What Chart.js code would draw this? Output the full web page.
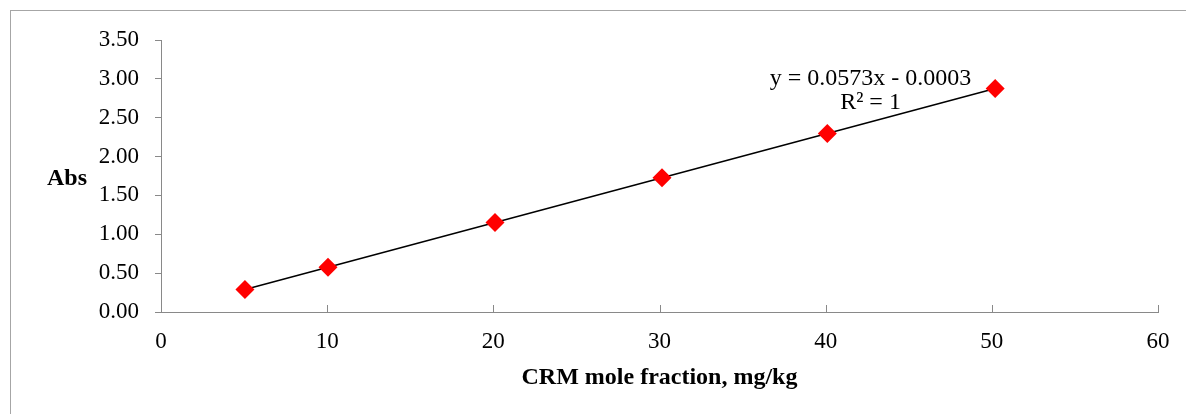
<!DOCTYPE html>
<html lang="en">
  <head>
    <meta charset="utf-8" />
    <title>CRM calibration</title>
    <style>
      * {
        margin: 0;
        padding: 0;
      }
      body {
        background: white;
      }
      .chartBox {
        width: 1186px;
        height: 414px;
      }
    </style>
  </head>
  <body>
    <div class="chartBox">
      <canvas id="myChart"></canvas>
    </div>

    <script src="https://cdn.jsdelivr.net/npm/chart.js@4.4.0/dist/chart.umd.min.js"></script>

    <script>
      // data
      const molFraction = [5.05, 10.05, 20.1, 30.15, 40.1, 50.2];
      const absValues = [0.289, 0.576, 1.152, 1.727, 2.297, 2.876];
      const trendX = [5.05, 50.2];
      const trendY = [0.289, 2.876];
      const xTicks = [0, 10, 20, 30, 40, 50, 60];
      const yTicks = [0, 0.5, 1, 1.5, 2, 2.5, 3, 3.5];
      const eqText = "y = 0.0573x - 0.0003";
      const r2Text = "R\u00b2 = 1";

      const axisColor = "#898989";
      const serif = "'Liberation Serif', 'Times New Roman', serif";

      // frame, inward x ticks, titles and trendline label
      const extras = {
        id: "extras",
        afterDraw(chart) {
          const {
            ctx,
            chartArea: { left, right, top, bottom },
            scales: { x, y },
          } = chart;
          ctx.save();

          // outer frame (only top and left edges fall inside the picture)
          ctx.strokeStyle = "#a6a6a6";
          ctx.lineWidth = 1;
          ctx.strokeRect(10.5, 10.5, 1300, 800);

          // x ticks pointing up into the plot
          ctx.strokeStyle = axisColor;
          ctx.beginPath();
          xTicks.forEach((v) => {
            if (v === 0) return;
            const px = Math.round(x.getPixelForValue(v)) + 0.5;
            ctx.moveTo(px, bottom);
            ctx.lineTo(px, bottom - 7);
          });
          ctx.stroke();

          // axis titles
          ctx.fillStyle = "#000";
          ctx.font = "bold 24px " + serif;
          ctx.textAlign = "left";
          ctx.textBaseline = "middle";
          ctx.fillText("Abs", 47, 179);
          ctx.textAlign = "center";
          ctx.fillText("CRM mole fraction, mg/kg", (left + right) / 2, 378);

          // trendline equation
          ctx.font = "24px " + serif;
          ctx.textAlign = "center";
          const lx = x.getPixelForValue(42.7);
          ctx.fillText(eqText, lx, y.getPixelForValue(3.0));
          ctx.fillText(r2Text, lx, y.getPixelForValue(2.69));

          ctx.restore();
        },
      };

      const data = {
        datasets: [
          {
            type: "line",
            label: "Linear",
            data: trendX.map((v, i) => ({ x: v, y: trendY[i] })),
            borderColor: "#000",
            borderWidth: 1.5,
            pointRadius: 0,
            fill: false,
            order: 2,
          },
          {
            type: "scatter",
            label: "Abs",
            data: molFraction.map((v, i) => ({ x: v, y: absValues[i] })),
            pointStyle: "rectRot",
            pointRadius: 9.5,
            pointHoverRadius: 9.5,
            backgroundColor: "#ff0000",
            borderColor: "#ff0000",
            borderWidth: 0,
            order: 1,
          },
        ],
      };

      const config = {
        type: "scatter",
        data: data,
        options: {
          responsive: false,
          animation: false,
          layout: {
            padding: { top: 40, right: 28, left: 0, bottom: 0 },
          },
          plugins: {
            legend: { display: false },
            tooltip: { enabled: false },
          },
          scales: {
            x: {
              type: "linear",
              min: 0,
              max: 60,
              afterBuildTicks(scale) {
                scale.ticks = xTicks.map((v) => ({ value: v }));
              },
              afterFit(scale) {
                scale.height = 102;
              },
              border: { color: axisColor, width: 1 },
              grid: { display: false },
              ticks: {
                color: "#000",
                font: { family: serif, size: 23 },
                padding: 8,
                maxRotation: 0,
              },
            },
            y: {
              type: "linear",
              min: 0,
              max: 3.5,
              afterBuildTicks(scale) {
                scale.ticks = yTicks.map((v) => ({ value: v }));
              },
              afterFit(scale) {
                scale.width = 161;
              },
              border: { color: axisColor, width: 1 },
              grid: {
                drawOnChartArea: false,
                drawTicks: true,
                tickLength: 6,
                color: axisColor,
              },
              ticks: {
                color: "#000",
                font: { family: serif, size: 23 },
                padding: 16,
                callback: (v) => v.toFixed(2),
              },
            },
          },
        },
        plugins: [extras],
      };

      const canvas = document.getElementById("myChart");
      canvas.width = 1186;
      canvas.height = 414;
      const myChart = new Chart(canvas, config);
    </script>
  </body>
</html>
